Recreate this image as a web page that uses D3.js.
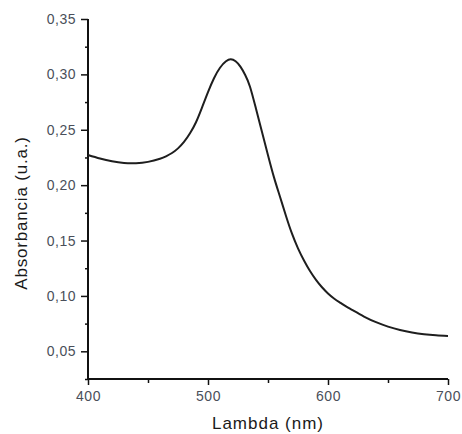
<!DOCTYPE html>
<html>
<head>
<meta charset="utf-8">
<script src="https://cdn.jsdelivr.net/npm/d3@7"></script>
<style>
  body { margin: 0; background: #fff; }
  svg { display: block; }
  .tick text { font-family: "Liberation Sans", Arial, sans-serif; fill: #4a4f5a; }
  .axis-title { font-family: "Liberation Sans", Arial, sans-serif; fill: #1a1a1a; }
</style>
</head>
<body>
<div id="chart"></div>
<script>
// wavelength (nm) and absorbance
var lambda = [400, 410, 420, 430, 440, 450, 460, 465, 470, 475, 480, 485, 490, 495, 500, 505, 510, 515, 519, 523, 527, 531, 535, 540, 545, 550, 555, 560, 565, 570, 575, 580, 585, 590, 595, 600, 605, 610, 615, 620, 630, 640, 650, 660, 670, 680, 690, 700];
var absorb = [0.2272, 0.2240, 0.2215, 0.2200, 0.2198, 0.2210, 0.2238, 0.2260, 0.2290, 0.2332, 0.2390, 0.2468, 0.2568, 0.2700, 0.2840, 0.2965, 0.3060, 0.3118, 0.3136, 0.3118, 0.3070, 0.2995, 0.2889, 0.2690, 0.2480, 0.2270, 0.2070, 0.1895, 0.1722, 0.1562, 0.1430, 0.1320, 0.1225, 0.1145, 0.1078, 0.1022, 0.0977, 0.0940, 0.0905, 0.0874, 0.0814, 0.0763, 0.0723, 0.0692, 0.0670, 0.0655, 0.0645, 0.0638];

var xTicks = [400, 500, 600, 700];
var xMinor = [450, 550, 650];
var yTicks = [0.05, 0.10, 0.15, 0.20, 0.25, 0.30, 0.35];
var yMinor = [0.025, 0.075, 0.125, 0.175, 0.225, 0.275, 0.325];

var W = 462, H = 434;
var margin = { top: 19, right: 14, bottom: 55, left: 88 };

var svg = d3.select("#chart").append("svg")
  .attr("width", W)
  .attr("height", H);

var x = d3.scaleLinear().domain([400, 700]).range([margin.left, W - margin.right]);
var y = d3.scaleLinear().domain([0.025, 0.35]).range([H - margin.bottom, margin.top]);

var fmt = d3.format(".2f");
var comma = (d) => fmt(d).replace(".", ",");

/* X AXIS */
var gx = svg.append("g")
  .attr("transform", `translate(0, ${H - margin.bottom})`);
gx.append("g")
  .call(d3.axisBottom(x).tickValues(xMinor).tickSize(4).tickFormat(""))
  .call((g) => g.select(".domain").remove())
  .selectAll("line").attr("stroke", "#111").attr("stroke-width", 1.5);
gx.append("g")
  .call(d3.axisBottom(x).tickValues(xTicks).tickSize(6).tickPadding(6))
  .call((g) => g.select(".domain").attr("stroke", "#111").attr("stroke-width", 2))
  .call((g) => g.selectAll("line").attr("stroke", "#111").attr("stroke-width", 1.5))
  .call((g) => g.selectAll("text").style("font-size", "14px").style("letter-spacing", "0.5px"));

/* Y AXIS */
var gy = svg.append("g")
  .attr("transform", `translate(${margin.left}, 0)`);
gy.append("g")
  .call(d3.axisLeft(y).tickValues(yMinor).tickSize(3).tickFormat(""))
  .call((g) => g.select(".domain").remove())
  .selectAll("line").attr("stroke", "#111").attr("stroke-width", 1.5);
gy.append("g")
  .call(d3.axisLeft(y).tickValues(yTicks).tickSize(7).tickPadding(5).tickFormat(comma))
  .call((g) => g.select(".domain").attr("stroke", "#111").attr("stroke-width", 2))
  .call((g) => g.selectAll("line").attr("stroke", "#111").attr("stroke-width", 1.5))
  .call((g) => g.selectAll("text").style("font-size", "14px").style("letter-spacing", "0.5px"));

// plain axis lines, no outer ticks
gx.select(".domain").attr("d", `M${margin.left},0H${W - margin.right}`);
gy.select(".domain").attr("d", `M0,${margin.top}V${H - margin.bottom}`);

/* LINE */
var data = lambda.map((l, i) => ({ l: l, a: absorb[i] }));
svg.append("path")
  .datum(data)
  .attr("fill", "none")
  .attr("stroke", "#1e1e1e")
  .attr("stroke-width", 2)
  .attr("d", d3.line().x((d) => x(d.l)).y((d) => y(d.a)).curve(d3.curveNatural));

/* TITLES */
svg.append("text")
  .attr("class", "axis-title")
  .attr("x", (margin.left + W - margin.right) / 2)
  .attr("y", 429)
  .attr("text-anchor", "middle")
  .style("font-size", "17px")
  .style("letter-spacing", "1px")
  .text("Lambda (nm)");

svg.append("text")
  .attr("class", "axis-title")
  .attr("transform", "translate(27, 213) rotate(-90)")
  .attr("text-anchor", "middle")
  .style("font-size", "17px")
  .style("letter-spacing", "0.8px")
  .text("Absorbancia (u.a.)");
</script>
</body>
</html>
